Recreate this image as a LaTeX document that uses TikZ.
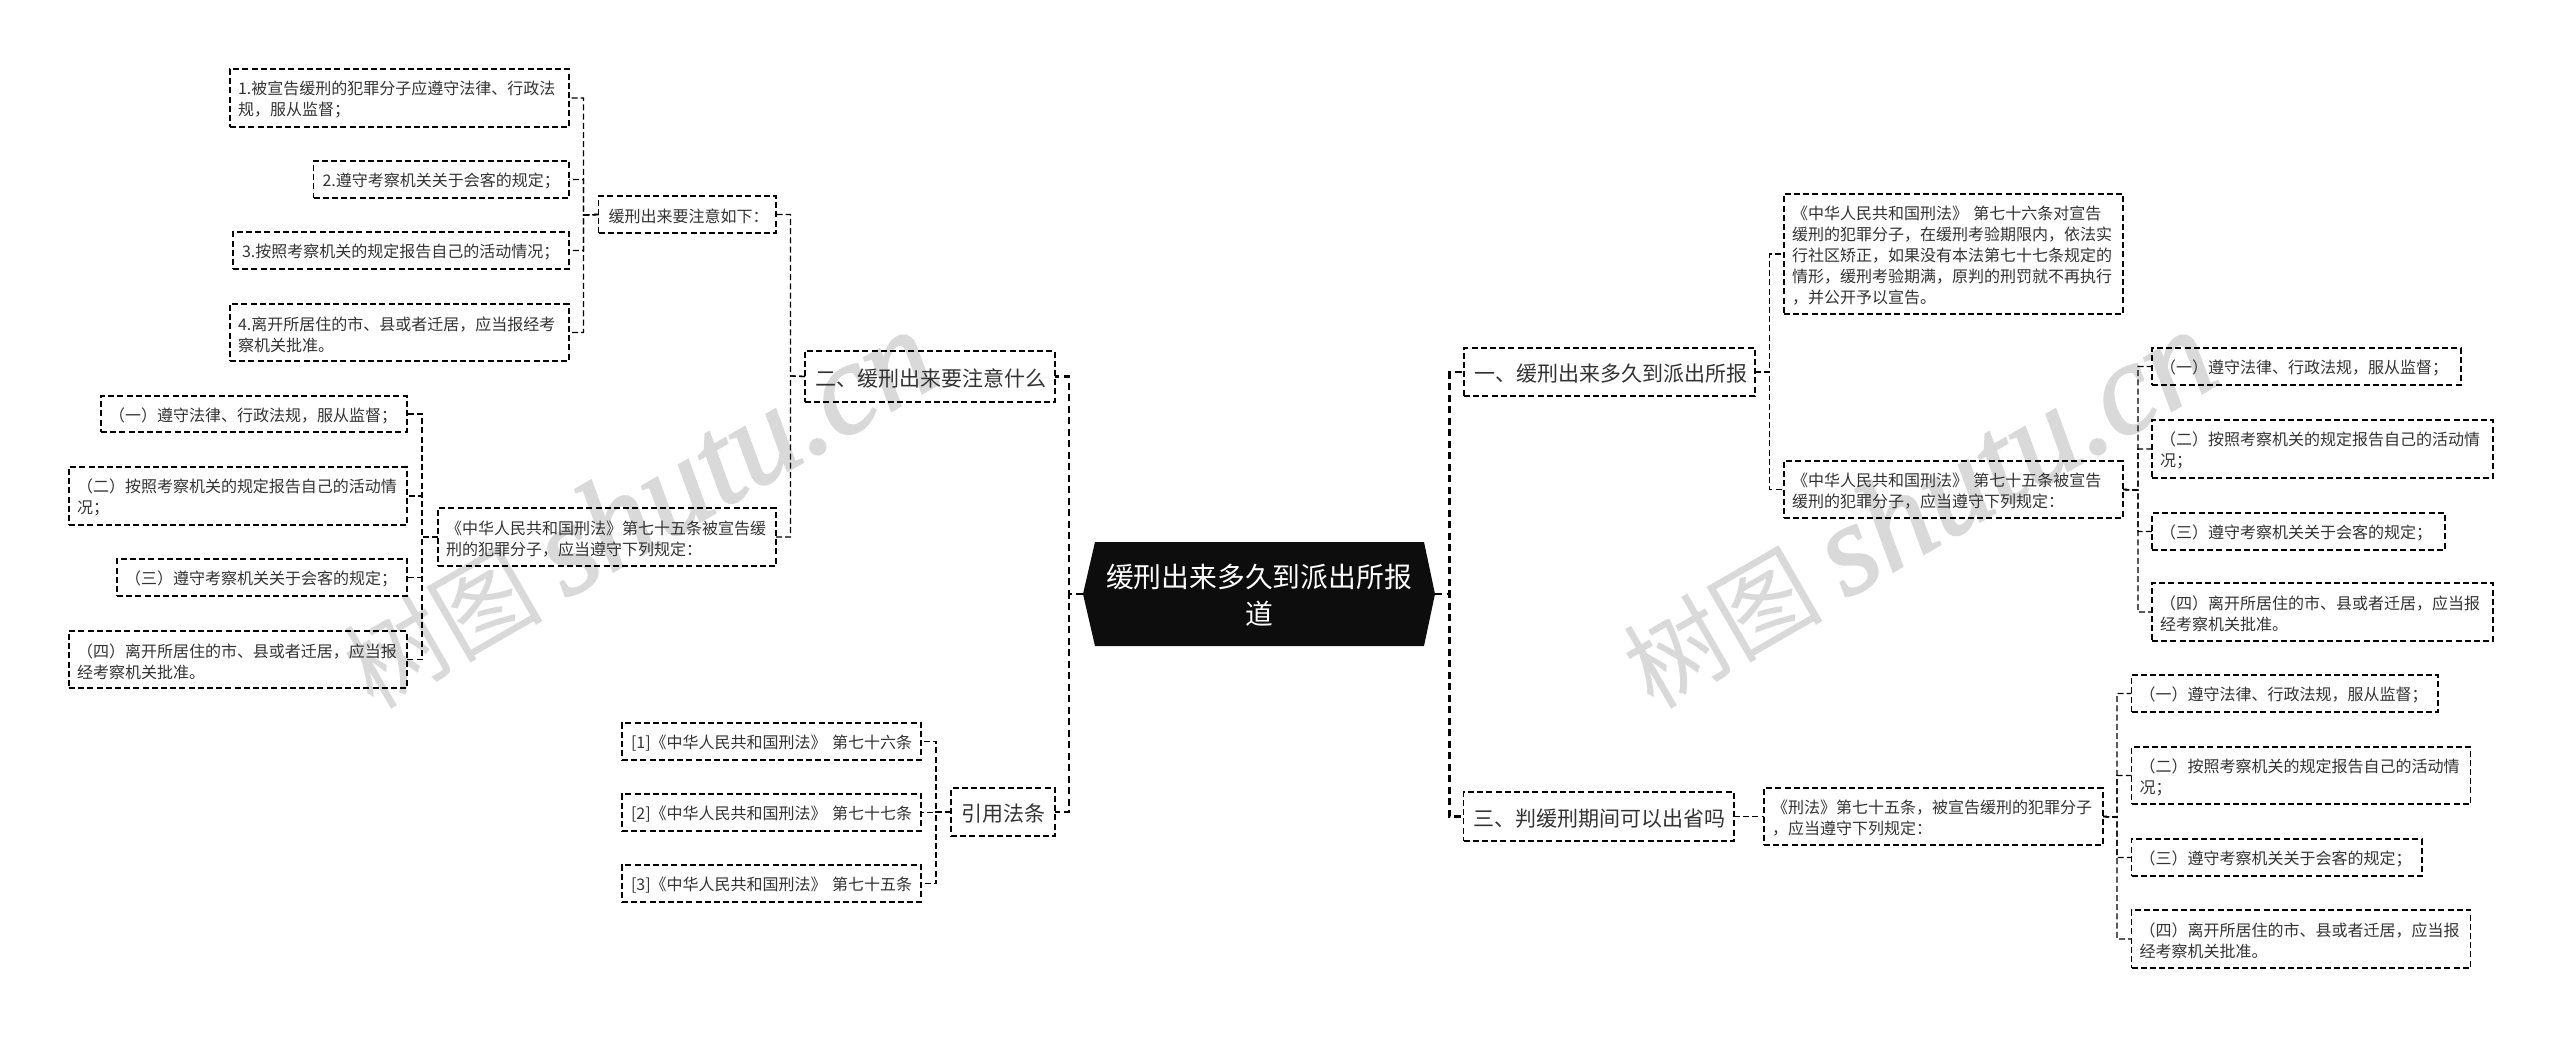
\documentclass[tikz,border=0pt]{standalone}
\usepackage{fontspec}
\setmainfont{Noto Sans CJK SC}
\newfontfamily\wmlatin{Liberation Serif}[ItalicFeatures={FakeBold=1.5}]
\definecolor{ink}{HTML}{333333}
\definecolor{wm}{HTML}{D9D9D9}
\definecolor{rootfill}{HTML}{0D0D0D}
\newcommand{\wmtext}{{\fontsize{100}{100}\selectfont 树图}\hspace{22pt}{\fontsize{130}{130}\selectfont\wmlatin\itshape shutu.cn}}
\newlength{\bxlead}
\tikzset{
  basebox/.style={draw=black,line width=1.3pt,dash pattern=on 6pt off 3.2pt,text=ink,align=left,outer sep=0pt,inner ysep=0pt},
  leafbox/.style={basebox,font=\fontsize{16}{21}\selectfont\setlength{\bxlead}{1.09em}},
  topicbox/.style={basebox,line width=1.5pt,font=\fontsize{21}{27}\selectfont\setlength{\bxlead}{1.0em}},
  rootlabel/.style={text=white,align=center,outer sep=0pt,inner sep=0pt,font=\fontsize{27.8}{36.5}\selectfont},
  conn/.style={draw=black,line width=1.3pt,dash pattern=on 6pt off 3.2pt},
  mainconn/.style={draw=black,line width=2.6pt,dash pattern=on 7pt off 4.5pt},
  wmark/.style={text=wm,inner sep=0pt}
}
\newcommand{\bx}[8]{%
  \pgfmathsetmacro{\bxh}{#6-#4}%
  \pgfmathsetmacro{\bxt}{#5-#3-2*#2}%
  \node[#1,inner xsep=#2pt,text width=\bxt pt,minimum height=\bxh pt] (#7) at ({(#3+#5)/2},{(#4+#6)/2}) {\rule{0pt}{\bxlead}#8};}
\begin{document}
\begin{tikzpicture}[x=1pt,y=-1pt]
\useasboundingbox (0,0) rectangle (2560,1037);
\fill[white] (0,0) rectangle (2560,1037);
% watermarks
\node[wmark,rotate=30] (wm1) at (638,510) {\wmtext};
\node[wmark,rotate=30] (wm2) at (1918,510) {\wmtext};
% root
\fill[rootfill] (1095,542) -- (1424,542) -- (1435,594) -- (1424,646) -- (1095,646) -- (1083,594) -- cycle;
\node[rootlabel,minimum width=352pt,minimum height=104pt] (root) at (1259,595) {缓刑出来多久到派出所报\\道};
% left upper
\bx{topicbox}{10}{805}{351}{1055}{402}{t2}{二、缓刑出来要注意什么}
\bx{leafbox}{10}{598.5}{196}{776}{233}{a}{缓刑出来要注意如下：}
\bx{leafbox}{8}{230}{69}{569}{127}{a1}{1.被宣告缓刑的犯罪分子应遵守法律、行政法\\规，服从监督；}
\bx{leafbox}{8}{313.5}{161}{569}{198}{a2}{\hspace*{1pt}2.遵守考察机关关于会客的规定；}
\bx{leafbox}{8}{233}{232}{569}{269}{a3}{\hspace*{1pt}3.按照考察机关的规定报告自己的活动情况；}
\bx{leafbox}{8}{230}{304}{569}{361}{a4}{4.离开所居住的市、县或者迁居，应当报经考\\察机关批准。}
\bx{leafbox}{8}{438}{508}{776}{566}{b}{《中华人民共和国刑法》第七十五条被宣告缓\\刑的犯罪分子，应当遵守下列规定：}
\bx{leafbox}{8}{101}{396}{407}{432}{b1}{（一）遵守法律、行政法规，服从监督；}
\bx{leafbox}{8}{69}{467}{407}{525}{b2}{（二）按照考察机关的规定报告自己的活动情\\况；}
\bx{leafbox}{8}{117}{559}{407}{596}{b3}{（三）遵守考察机关关于会客的规定；}
\bx{leafbox}{8}{69}{631}{407}{688}{b4}{（四）离开所居住的市、县或者迁居，应当报\\经考察机关批准。}
% citations
\bx{topicbox}{10}{951}{788}{1055}{836}{t4}{引用法条}
\bx{leafbox}{9}{622}{723}{921}{760}{c1}{\mbox{[1]《中华人民共和国刑法》 第七十六条}}
\bx{leafbox}{9}{622}{794}{921}{831}{c2}{\mbox{[2]《中华人民共和国刑法》 第七十七条}}
\bx{leafbox}{9}{622}{865}{921}{902}{c3}{\mbox{[3]《中华人民共和国刑法》 第七十五条}}
% right upper
\bx{topicbox}{10}{1464}{348}{1755}{396}{t1}{一、缓刑出来多久到派出所报}
\bx{leafbox}{8}{1784}{194}{2123}{314}{d}{《中华人民共和国刑法》 第七十六条对宣告\\缓刑的犯罪分子，在缓刑考验期限内，依法实\\行社区矫正，如果没有本法第七十七条规定的\\情形，缓刑考验期满，原判的刑罚就不再执行\\，并公开予以宣告。}
\bx{leafbox}{8}{1784}{461}{2123}{518}{e}{《中华人民共和国刑法》 第七十五条被宣告\\缓刑的犯罪分子，应当遵守下列规定：}
\bx{leafbox}{8}{2152}{348}{2461}{385}{e1}{（一）遵守法律、行政法规，服从监督；}
\bx{leafbox}{8}{2152}{420}{2493}{478}{e2}{（二）按照考察机关的规定报告自己的活动情\\况；}
\bx{leafbox}{8}{2152}{513}{2445}{550}{e3}{（三）遵守考察机关关于会客的规定；}
\bx{leafbox}{8}{2152}{583}{2493}{641}{e4}{（四）离开所居住的市、县或者迁居，应当报\\经考察机关批准。}
% right lower
\bx{topicbox}{10}{1463.5}{792}{1734}{841}{t3}{三、判缓刑期间可以出省吗}
\bx{leafbox}{8}{1764}{788}{2103}{845}{f}{《刑法》第七十五条，被宣告缓刑的犯罪分子\\，应当遵守下列规定：}
\bx{leafbox}{8}{2131.5}{675}{2438}{712}{f1}{（一）遵守法律、行政法规，服从监督；}
\bx{leafbox}{8}{2131.5}{747}{2470.5}{804}{f2}{（二）按照考察机关的规定报告自己的活动情\\况；}
\bx{leafbox}{8}{2131.5}{839}{2422}{876}{f3}{（三）遵守考察机关关于会客的规定；}
\bx{leafbox}{8}{2131.5}{910}{2470.5}{968}{f4}{（四）离开所居住的市、县或者迁居，应当报\\经考察机关批准。}
% trunk coordinates
\coordinate (rl) at (1069,594);
\coordinate (rr) at (1449.5,594);
\coordinate (ta) at (790.5,376);
\coordinate (tc) at (936,812);
\coordinate (tb) at (1769.5,372);
\coordinate (aa) at (583.5,215);
\coordinate (bb) at (422,537);
\coordinate (ee) at (2138,490);
\coordinate (ff) at (2117,817);
% connectors
\foreach \k in {t2,t4}{\draw[mainconn] (root.west |- rl) -- (rl) |- (\k.east);}
\foreach \k in {t1,t3}{\draw[mainconn] (root.east |- rr) -- (rr) |- (\k.west);}
\foreach \k in {a,b}{\draw[conn] (t2.west) -- (ta) |- (\k.east);}
\foreach \k in {a1,a2,a3,a4}{\draw[conn] (a.west) -- (aa) |- (\k.east);}
\foreach \k in {b1,b2,b3,b4}{\draw[conn] (b.west) -- (bb) |- (\k.east);}
\foreach \k in {c1,c2,c3}{\draw[conn] (t4.west) -- (tc) |- (\k.east);}
\foreach \k in {d,e}{\draw[conn] (t1.east) -- (tb) |- (\k.west);}
\foreach \k in {e1,e2,e3,e4}{\draw[conn] (e.east) -- (ee) |- (\k.west);}
\draw[conn] (t3.east) -- (f.west);
\foreach \k in {f1,f2,f3,f4}{\draw[conn] (f.east) -- (ff) |- (\k.west);}
\end{tikzpicture}
\end{document}
